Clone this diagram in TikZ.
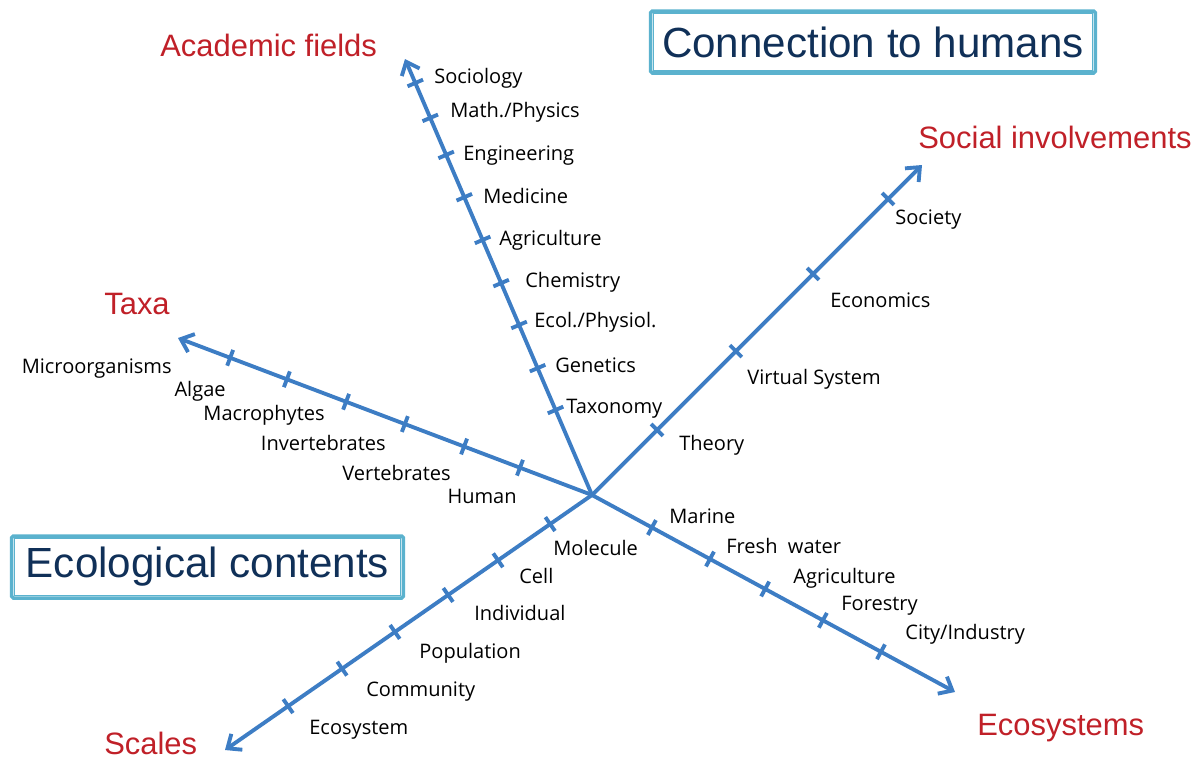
\documentclass[tikz,border=0pt]{standalone}
\usepackage{fontspec}
\setmainfont{Open Sans}
\newfontfamily\headfont{Liberation Sans}
\usetikzlibrary{calc,arrows.meta}
\definecolor{axisblue}{RGB}{61,125,196}
\definecolor{headred}{RGB}{192,32,40}
\definecolor{frameblue}{RGB}{91,178,206}
\definecolor{framenavy}{RGB}{16,48,88}
\def\axtick(#1)(#2)(#3){\draw[axisline] ($(#1)!#3!(#2)!4.8pt!90:(#2)$) -- ($(#1)!#3!(#2)!4.8pt!-90:(#2)$);}

\begin{document}
\begin{tikzpicture}[x=0.02cm, y=-0.02cm,
		axisline/.style={draw=axisblue, line width=2.2pt},
		axisarrow/.style={axisline, -{Straight Barb[length=6.5pt,width=11pt]}},
		item/.style={font=\fontsize{11.4}{13}\selectfont, inner sep=0pt},
		head/.style={font=\headfont\fontsize{17.6}{20}\selectfont, text=headred, inner sep=0pt},
		frame/.style={draw=frameblue, line width=2pt, rounded corners=1pt, inner sep=0pt,
			font=\headfont\fontsize{24}{28}\selectfont, text=framenavy}]
			%%%%% START %%%%%
			\useasboundingbox (0, 0) rectangle (1200, 762);
			
			\coordinate (c) at (592, 495);
			\coordinate (acad) at (405, 59);
			\coordinate (social) at (922, 165);
			\coordinate (taxa) at (178, 338);
			\coordinate (eco) at (955, 692);
			\coordinate (scale) at (225, 750);
			
			\draw[axisarrow] (c) -- (acad);
			\draw[axisarrow] (c) -- (social);
			\draw[axisarrow] (c) -- (taxa);
			\draw[axisarrow] (c) -- (eco);
			\draw[axisarrow] (c) -- (scale);
			
			% academic fields
			\axtick(c)(acad)(0.195)
			\axtick(c)(acad)(0.291)
			\axtick(c)(acad)(0.390)
			\axtick(c)(acad)(0.486)
			\axtick(c)(acad)(0.585)
			\axtick(c)(acad)(0.683)
			\axtick(c)(acad)(0.780)
			\axtick(c)(acad)(0.865)
			\axtick(c)(acad)(0.945)
			
			% social involvements
			\axtick(c)(social)(0.197)
			\axtick(c)(social)(0.436)
			\axtick(c)(social)(0.670)
			\axtick(c)(social)(0.897)
			
			% taxa
			\axtick(c)(taxa)(0.174)
			\axtick(c)(taxa)(0.309)
			\axtick(c)(taxa)(0.452)
			\axtick(c)(taxa)(0.594)
			\axtick(c)(taxa)(0.737)
			\axtick(c)(taxa)(0.874)
			
			% ecosystems
			\axtick(c)(eco)(0.165)
			\axtick(c)(eco)(0.325)
			\axtick(c)(eco)(0.477)
			\axtick(c)(eco)(0.636)
			\axtick(c)(eco)(0.796)
			
			% scales
			\axtick(c)(scale)(0.114)
			\axtick(c)(scale)(0.256)
			\axtick(c)(scale)(0.392)
			\axtick(c)(scale)(0.537)
			\axtick(c)(scale)(0.681)
			\axtick(c)(scale)(0.828)
			
			\node[item, anchor=base west] (socio) at (434, 83) {Sociology};
			\node[item, anchor=base west] (math) at (450, 117) {Math./Physics};
			\node[item, anchor=base west] (engin) at (463, 160) {Engineering};
			\node[item, anchor=base west] (medic) at (483, 203) {Medicine};
			\node[item, anchor=base west] (agric) at (499, 245) {Agriculture};
			\node[item, anchor=base west] (chem) at (525, 287) {Chemistry};
			\node[item, anchor=base west] (ecol) at (534, 327) {Ecol./Physiol.};
			\node[item, anchor=base west] (genet) at (555, 372) {Genetics};
			\node[item, anchor=base west] (taxon) at (566, 413) {Taxonomy};
			
			\node[item, anchor=base west] (society) at (895, 224) {Society};
			\node[item, anchor=base west] (econ) at (830, 307) {Economics};
			\node[item, anchor=base west] (virtual) at (747, 384) {Virtual System};
			\node[item, anchor=base west] (theory) at (679, 450) {Theory};
			
			\node[item, anchor=base east] (micro) at (172, 373) {Microorganisms};
			\node[item, anchor=base east] (algae) at (226, 396) {Algae};
			\node[item, anchor=base east] (macro) at (325, 420) {Macrophytes};
			\node[item, anchor=base east] (invert) at (386, 450) {Invertebrates};
			\node[item, anchor=base east] (vert) at (451, 480) {Vertebrates};
			\node[item, anchor=base east] (human) at (517, 503) {Human};
			
			\node[item, anchor=base west] (marine) at (669, 523) {Marine};
			\node[item, anchor=base west] (fresh) at (726, 553) {Fresh~~water};
			\node[item, anchor=base west] (agro) at (793, 583) {Agriculture};
			\node[item, anchor=base west] (forest) at (841, 610) {Forestry};
			\node[item, anchor=base west] (city) at (905, 639) {City/Industry};
			
			\node[item, anchor=base west] (molec) at (553, 555) {Molecule};
			\node[item, anchor=base west] (cell) at (519, 583) {Cell};
			\node[item, anchor=base west] (indiv) at (474, 620) {Individual};
			\node[item, anchor=base west] (popul) at (419, 658) {Population};
			\node[item, anchor=base west] (commun) at (366, 696) {Community};
			\node[item, anchor=base west] (ecosys) at (309, 734) {Ecosystem};
			
			\node[head, anchor=base west] (acadlabel) at (160, 56) {Academic fields};
			\node[head, anchor=base west] (sociallabel) at (918, 148) {Social involvements};
			\node[head, anchor=base west] (taxalabel) at (104, 314) {Taxa};
			\node[head, anchor=base west] (ecolabel) at (977, 735) {Ecosystems};
			\node[head, anchor=base west] (scalelabel) at (104, 754) {Scales};
			
			\node[frame, minimum width=8.9cm, minimum height=1.24cm] (conn) at (873, 42) {Connection to humans};
			\draw[frameblue, line width=0.5pt] ([shift={(2.6pt,2.6pt)}]conn.south west) rectangle ([shift={(-2.6pt,-2.6pt)}]conn.north east);
			
			\node[frame, minimum width=7.84cm, minimum height=1.24cm] (content) at (207.5, 567) {Ecological contents};
			\draw[frameblue, line width=0.5pt] ([shift={(2.6pt,2.6pt)}]content.south west) rectangle ([shift={(-2.6pt,-2.6pt)}]content.north east);
			%%%%% END %%%%%
		\end{tikzpicture}
\end{document}
